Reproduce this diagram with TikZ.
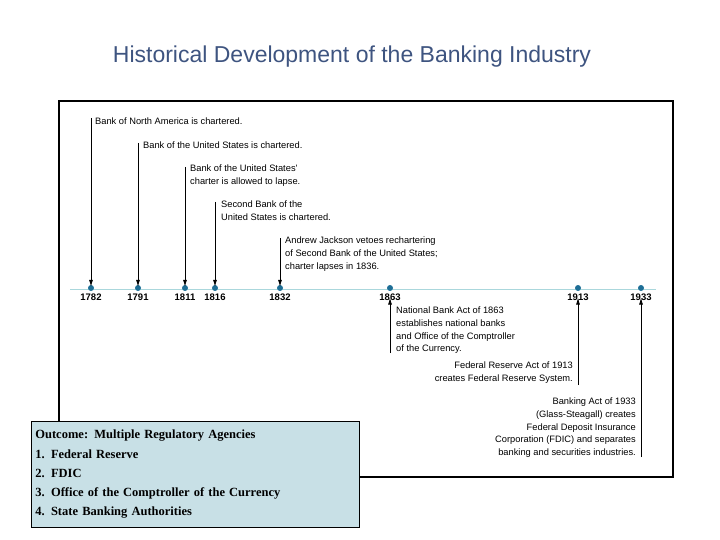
\documentclass[tikz,border=0pt]{standalone}
\usepackage{fontspec}
\usetikzlibrary{arrows.meta}
\setmainfont{Liberation Serif}
\newfontfamily\sans{Liberation Sans}
\definecolor{ttl}{RGB}{62,84,128}
\definecolor{boxbg}{RGB}{200,224,230}
\definecolor{dotc}{RGB}{30,110,150}
\definecolor{linec}{RGB}{170,215,220}
\begin{document}
\begin{tikzpicture}[x=1pt,y=-1pt,
  ev/.style={font=\sans\fontsize{9.3}{12.6}\selectfont,inner sep=0pt,align=left},
  evr/.style={font=\sans\fontsize{9.3}{12.6}\selectfont,inner sep=0pt,align=right},
  yr/.style={font=\sans\bfseries\fontsize{9.5}{10}\selectfont,inner sep=0pt},
  dot/.style={circle,fill=dotc,inner sep=0pt,minimum size=6pt},
  arr/.style={-{Latex[length=7pt,width=4pt]},line width=0.8pt}]
\useasboundingbox (0,0) rectangle (720,540);
\node[font=\sans\fontsize{23}{26}\selectfont,text=ttl] (title) at (352,57) {Historical Development of the Banking Industry};
\draw[line width=1.5pt] (59,101) rectangle (673,477);
\draw[linec,line width=1pt] (70,289) -- (656,289);
\foreach \n/\x in {1782/91,1791/138,1811/185,1816/215,1832/280,1863/390,1913/578,1933/641}{
  \node[dot] (d\n) at (\x,288) {};
  \node[yr] (y\n) at (\x,297) {\n};
}
\coordinate (a1) at (91,118); \coordinate (a2) at (138,143); \coordinate (a3) at (185,167);
\coordinate (a4) at (215,202); \coordinate (a5) at (280,238);
\draw[arr] (a1) -- ([yshift=-2pt]d1782.north); \draw[arr] (a2) -- ([yshift=-2pt]d1791.north); \draw[arr] (a3) -- ([yshift=-2pt]d1811.north);
\draw[arr] (a4) -- ([yshift=-2pt]d1816.north); \draw[arr] (a5) -- ([yshift=-2pt]d1832.north);
\node[ev,anchor=north west] (t1) at (95,118) {Bank of North America is chartered.};
\node[ev,anchor=north west] (t2) at (143,142) {Bank of the United States is chartered.};
\node[ev,anchor=north west] (t3) at (190,165) {Bank of the United States'\\charter is allowed to lapse.};
\node[ev,anchor=north west] (t4) at (221,201) {Second Bank of the\\United States is chartered.};
\node[ev,anchor=north west] (t5) at (285,237) {Andrew Jackson vetoes rechartering\\of Second Bank of the United States;\\charter lapses in 1836.};
\coordinate (b1) at (390,353); \coordinate (b2) at (578,385); \coordinate (b3) at (641,457);
\draw[arr] (b1) -- ([yshift=3pt]y1863.south); \draw[arr] (b2) -- ([yshift=3pt]y1913.south); \draw[arr] (b3) -- ([yshift=3pt]y1933.south);
\node[ev,anchor=north west] (t6) at (396,307) {National Bank Act of 1863\\establishes national banks\\and Office of the Comptroller\\of the Currency.};
\node[evr,anchor=north east] (t7) at (573,362) {Federal Reserve Act of 1913\\creates Federal Reserve System.};
\node[evr,anchor=north east] (t8) at (636,398) {Banking Act of 1933\\(Glass-Steagall) creates\\Federal Deposit Insurance\\Corporation (FDIC) and separates\\banking and securities industries.};
\node[draw=black,line width=0.8pt,fill=boxbg,anchor=north west,minimum width=328pt,minimum height=106pt,inner sep=4pt,align=left,text width=320pt,font=\bfseries\fontsize{12.5}{19.3}\selectfont] (box) at (31,421)
{Outcome: Multiple Regulatory Agencies\\1.\enspace Federal Reserve\\2.\enspace FDIC\\3.\enspace Office of the Comptroller of the Currency\\4.\enspace State Banking Authorities};
\end{tikzpicture}
\end{document}
